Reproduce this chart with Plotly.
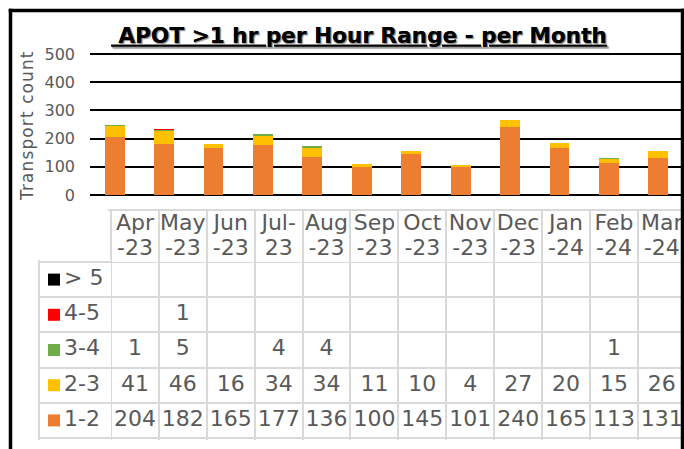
import plotly.graph_objects as go

# ---- data ----
MONTHS = ["Apr-23", "May-23", "Jun-23", "Jul-23", "Aug-23", "Sep-23",
          "Oct-23", "Nov-23", "Dec-23", "Jan-24", "Feb-24", "Mar-24"]
HEAD_TOP = ["Apr", "May", "Jun", "Jul-", "Aug", "Sep", "Oct", "Nov", "Dec", "Jan", "Feb", "Mar"]
HEAD_BOTTOM = ["-23", "-23", "-23", "23", "-23", "-23", "-23", "-23", "-23", "-24", "-24", "-24"]
SERIES_NAMES = ["1-2", "2-3", "3-4", "4-5", "> 5"]
R12 = [204, 182, 165, 177, 136, 100, 145, 101, 240, 165, 113, 131]
R23 = [41, 46, 16, 34, 34, 11, 10, 4, 27, 20, 15, 26]
R34 = [1, 5, None, 4, 4, None, None, None, None, None, 1, None]
R45 = [None, 1, None, None, None, None, None, None, None, None, None, None]
R5 = [None] * 12
COLORS = ["#ED7D31", "#FFC000", "#70AD47", "#FF0000", "#000000"]
TITLE = "APOT >1 hr per Hour Range - per Month"
YTITLE = "Transport count"

W, H = 684, 449
FONT = "DejaVu Sans"
GRAY = "#595959"
LINE = "#D9D9D9"


def px_x(p):
    return p / W


def px_y(p):
    return (H - p) / H


series = [R12, R23, R34, R45, R5]

fig = go.Figure()

# stacked bars
for name, vals, col in zip(SERIES_NAMES, series, COLORS):
    fig.add_trace(go.Bar(x=MONTHS, y=vals, name=name,
                         marker=dict(color=col, line=dict(width=0)),
                         xaxis="x", yaxis="y", showlegend=False, hoverinfo="skip"))

# data table: header row (two text lines)
for labels, ypos in ((HEAD_TOP, 0.745), (HEAD_BOTTOM, 0.245)):
    fig.add_trace(go.Scatter(x=MONTHS, y=[ypos] * len(MONTHS), text=labels, mode="text",
                             textposition="middle center",
                             textfont=dict(family=FONT, size=22, color=GRAY),
                             xaxis="x2", yaxis="y3", showlegend=False, hoverinfo="skip"))

# data table: value cells
for name, vals in zip(SERIES_NAMES, series):
    fig.add_trace(go.Scatter(x=MONTHS, y=[name] * len(MONTHS),
                             text=["" if v is None else str(v) for v in vals],
                             mode="text", textposition="middle center",
                             textfont=dict(family=FONT, size=22, color=GRAY),
                             xaxis="x2", yaxis="y2", showlegend=False, hoverinfo="skip"))

# data table: legend keys
fig.add_trace(go.Scatter(x=[14] * len(SERIES_NAMES), y=SERIES_NAMES, mode="markers",
                         marker=dict(symbol="square", size=12, color=COLORS, line=dict(width=0)),
                         xaxis="x3", yaxis="y2", showlegend=False, hoverinfo="skip"))
fig.add_trace(go.Scatter(x=[24] * len(SERIES_NAMES), y=SERIES_NAMES, text=SERIES_NAMES,
                         mode="text", textposition="middle right",
                         textfont=dict(family=FONT, size=22, color=GRAY),
                         xaxis="x3", yaxis="y2", showlegend=False, hoverinfo="skip"))

# ---- geometry ----
# bar chart: 0 at y=195px, 500 at y=54px; pad range slightly so edge gridlines are drawn
k = (195 - 54) / 500.0
y_lo = -(197 - 195) / k
y_hi = 500 + (54 - 52) / k

col_w = 47.9
tab_left = 111
ex = 0.06                      # extra category fraction so boundary gridlines are drawn
x2_start_px = tab_left - ex * col_w
x2_hi = -0.5 - ex + (W - x2_start_px) / col_w

row_h = (438 - 262) / 5.0
ey = 0.06
y2_top_px = 262 - ey * row_h
y2_bot_px = 438 + ey * row_h

frame = dict(color="black", width=3.5)

fig.update_layout(
    width=W, height=H,
    margin=dict(l=0, r=0, t=0, b=0, autoexpand=False),
    paper_bgcolor="white", plot_bgcolor="white",
    barmode="stack", bargap=0.6, showlegend=False,
    title=dict(text=f"<b><u>\u00a0{TITLE}</u></b>", x=px_x(359), xanchor="center",
               y=px_y(35), yanchor="middle",
               font=dict(family=FONT, size=21.6, color="black", shadow="1px 1px 1px #9a9a9a")),
    xaxis=dict(domain=[px_x(90), px_x(683)], showticklabels=False, showgrid=False,
               zeroline=False, showline=False, anchor="y", automargin=False,
               categoryorder="array", categoryarray=MONTHS),
    yaxis=dict(domain=[px_y(197), px_y(52)], range=[y_lo, y_hi], automargin=False,
               tickmode="array", tickvals=[0, 100, 200, 300, 400, 500], anchor="x",
               showgrid=True, gridcolor="black", gridwidth=2, zeroline=False,
               showline=False, ticks="", ticklabelstandoff=14,
               tickfont=dict(family=FONT, size=16, color=GRAY)),
    # table month columns
    xaxis2=dict(domain=[px_x(x2_start_px), 1.0], type="category", automargin=False,
                categoryorder="array", categoryarray=MONTHS,
                range=[-0.5 - ex, x2_hi], tickson="boundaries",
                showgrid=True, gridcolor=LINE, gridwidth=2,
                showticklabels=False, ticks="", zeroline=False,
                anchor="y3", side="top", showline=True, linecolor=LINE, linewidth=2),
    # table body rows
    yaxis2=dict(domain=[px_y(y2_bot_px), px_y(y2_top_px)], type="category", automargin=False,
                categoryorder="array", categoryarray=SERIES_NAMES,
                range=[-0.5 - ey, 4.5 + ey], tickson="boundaries",
                showgrid=True, gridcolor=LINE, gridwidth=2,
                showticklabels=False, ticks="", zeroline=False,
                anchor="x3", showline=True, linecolor=LINE, linewidth=2),
    # table header row
    yaxis3=dict(domain=[px_y(262), px_y(211)], range=[0, 1], anchor="x2", automargin=False,
                showgrid=False, showticklabels=False, ticks="", zeroline=False, showline=False),
    # legend-key column
    xaxis3=dict(domain=[px_x(40), px_x(tab_left)], range=[0, tab_left - 40], anchor="y2",
                automargin=False,
                showgrid=False, showticklabels=False, ticks="", zeroline=False, showline=False),
    annotations=[dict(text=f"<span style='letter-spacing:1.1px'>{YTITLE}</span>",
                      xref="paper", yref="paper", x=px_x(27), y=px_y(126),
                      xanchor="center", yanchor="middle", textangle=-90, showarrow=False,
                      font=dict(family=FONT, size=17, color=GRAY))],
    shapes=[
        dict(type="line", xref="paper", yref="paper", x0=px_x(8.75), x1=1.0,
             y0=px_y(10.5), y1=px_y(10.5), line=frame, layer="above"),
        dict(type="line", xref="paper", yref="paper", x0=px_x(10.5), x1=px_x(10.5),
             y0=px_y(8.75), y1=0.0, line=frame, layer="above"),
        dict(type="line", xref="paper", yref="paper", x0=px_x(682.5), x1=px_x(682.5),
             y0=px_y(8.75), y1=0.0, line=frame, layer="above"),
    ],
)

fig.write_html(
    "out.html", config={"displayModeBar": False},
    post_script=("document.documentElement.style.margin='0';"
                 "document.body.style.margin='0';"
                 "document.body.style.overflow='hidden';"
                 "document.documentElement.style.overflow='hidden';"))
